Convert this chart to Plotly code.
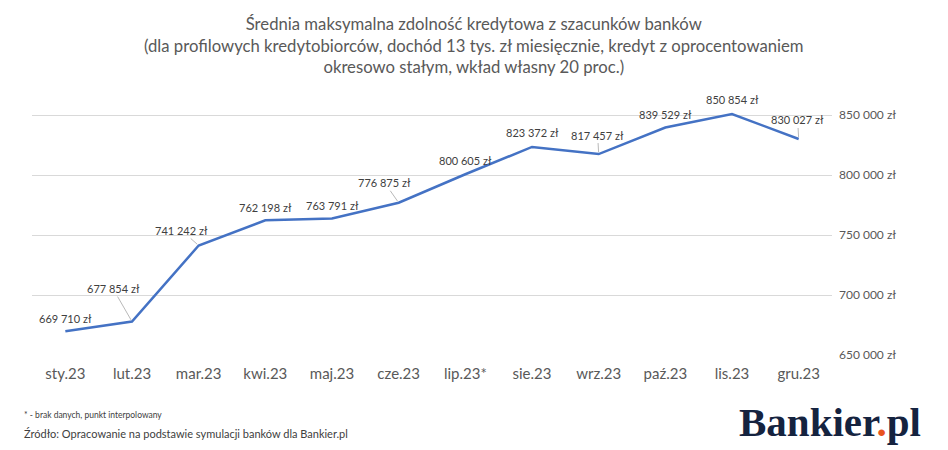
import plotly.graph_objects as go

months = ["sty.23", "lut.23", "mar.23", "kwi.23", "maj.23", "cze.23",
          "lip.23*", "sie.23", "wrz.23", "paź.23", "lis.23", "gru.23"]
values = [669710, 677854, 741242, 762198, 763791, 776875,
          800605, 823372, 817457, 839529, 850854, 830027]
y_ticks = [650000, 700000, 750000, 800000, 850000]

# label offsets in px (ax, ay) relative to the point, leader line where Excel drew one
label_offsets = [(0, -13), (-19, -33), (-17, -15), (0, -13), (0, -13), (-14, -20),
                 (0, -14), (0, -14), (-1, -19), (0, -13), (0, -14), (-1, -19)]
leaders = [False, True, True, False, False, True, False, False, True, False, False, True]


def fmt(v):
    return f"{v:,}".replace(",", " ") + " zł"


FONT = "Lato"

fig = go.Figure(go.Scatter(
    x=months, y=values, mode="lines",
    line=dict(color="#4472C4", width=2.5),
    cliponaxis=False, hoverinfo="skip", showlegend=False
))

annotations = []
for m, v, (ax, ay), ld in zip(months, values, label_offsets, leaders):
    annotations.append(dict(
        x=m, y=v, xref="x", yref="y", text=fmt(v),
        showarrow=True, arrowhead=0, arrowwidth=0.8,
        arrowcolor="#a6a6a6" if ld else "rgba(0,0,0,0)",
        ax=ax, ay=ay, standoff=2,
        font=dict(family=FONT, size=11, color="#404040")
    ))

annotations += [
    dict(text="Średnia maksymalna zdolność kredytowa z szacunków banków<br>"
              "(dla profilowych kredytobiorców, dochód 13 tys. zł miesięcznie, kredyt z oprocentowaniem<br>"
              "okresowo stałym, wkład własny 20 proc.)",
         xref="paper", yref="paper", x=0.5, xshift=42, y=1.0, yanchor="bottom", yshift=33,
         xanchor="center", showarrow=False, align="center",
         font=dict(family=FONT, size=16.7, color="#595959")),
    dict(text="* - brak danych, punkt interpolowany", xref="paper", yref="paper",
         x=0, xshift=-10, y=0, yshift=-60, xanchor="left", yanchor="middle", showarrow=False,
         font=dict(family=FONT, size=8.5, color="#404040")),
    dict(text="Źródło: Opracowanie na podstawie symulacji banków dla Bankier.pl",
         xref="paper", yref="paper", x=0, xshift=-10, y=0, yshift=-78,
         xanchor="left", yanchor="middle", showarrow=False,
         font=dict(family=FONT, size=11, color="#404040")),
    dict(text="<b>Bankier<span style='color:#e8531f'>.</span>pl</b>",
         xref="paper", yref="paper", x=1, xshift=91, y=0, yshift=-67,
         xanchor="right", yanchor="middle", showarrow=False,
         font=dict(family="Liberation Serif", size=41, color="#15233f")),
]

# the page body adds an 8px offset, so the figure is 8px smaller and shifted margins
fig.update_layout(
    width=940, height=442,
    margin=dict(l=24, r=116, t=104, b=95),
    paper_bgcolor="white", plot_bgcolor="white",
    font=dict(family=FONT),
    xaxis=dict(range=[-0.5, 11.5], showgrid=False, zeroline=False, showline=False,
               tickfont=dict(size=15, color="#595959"), ticks="", ticklabelstandoff=8),
    yaxis=dict(range=[650000, 852500], side="right", tickvals=y_ticks,
               ticktext=[fmt(t) for t in y_ticks], showgrid=True,
               gridcolor="#d9d9d9", gridwidth=1, zeroline=False, showline=False,
               tickfont=dict(size=12, color="#595959"), ticklabelstandoff=6),
    annotations=annotations,
)

fig.write_html("out.html")
